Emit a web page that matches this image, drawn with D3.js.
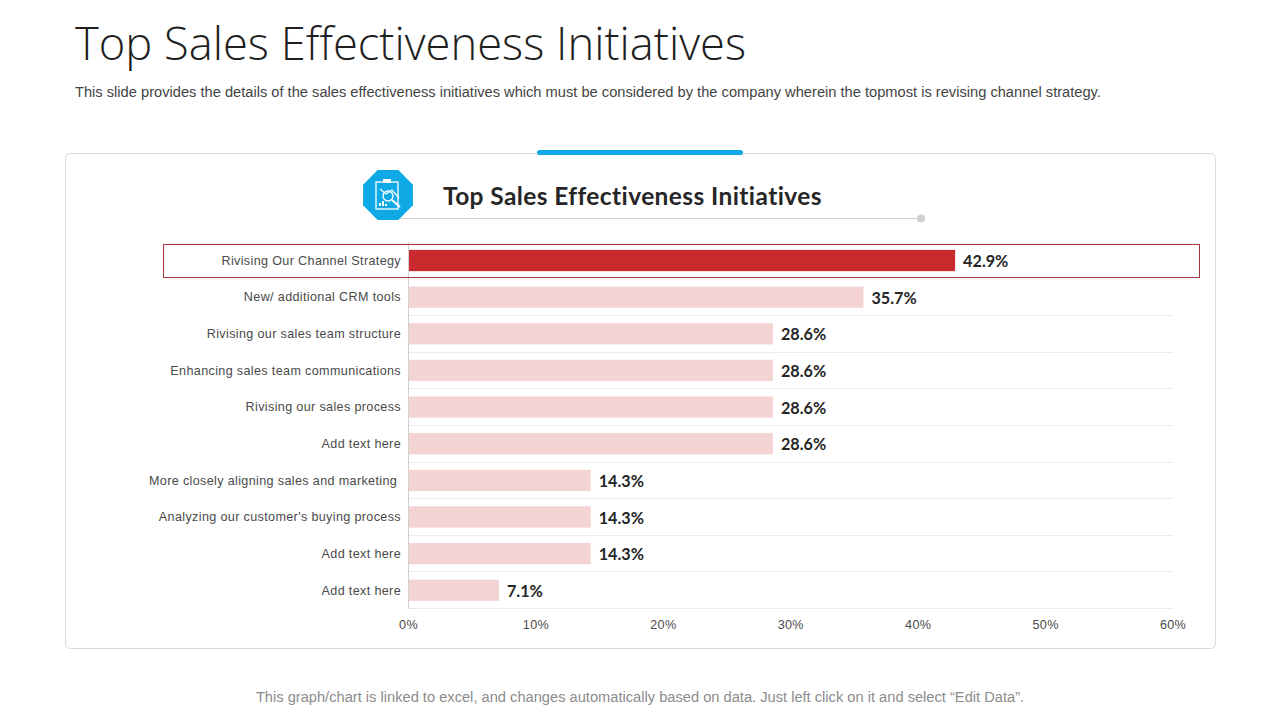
<!DOCTYPE html>
<html>
<head>
<meta charset="utf-8">
<script src="https://cdn.jsdelivr.net/npm/d3@7"></script>
<style>
  html, body { margin: 0; padding: 0; background: #fff; }
  svg { display: block; }
  text { font-family: "Liberation Sans", Arial, sans-serif; }
</style>
</head>
<body>
<script>
const categories = [
   "Rivising Our Channel Strategy",
   "New/ additional CRM tools",
   "Rivising our sales team structure",
   "Enhancing sales team communications",
   "Rivising our sales process",
   "Add text here",
   "More closely aligning sales and marketing ",
   "Analyzing our customer's buying process",
   "Add text here",
   "Add text here"
];
const values = [42.9, 35.7, 28.6, 28.6, 28.6, 28.6, 14.3, 14.3, 14.3, 7.1];
const xTicks = [0, 10, 20, 30, 40, 50, 60];
const highlightIndex = 0;

const titleText = "Top Sales Effectiveness Initiatives";
const subtitleText = "This slide provides the details of the sales effectiveness initiatives which must be considered by the company wherein the topmost is revising channel strategy.";
const footerText = "This graph/chart is linked to excel, and changes automatically based on data. Just left click on it and select \u201cEdit Data\u201d.";

const width = 1280, height = 720;
const svg = d3.select("body").append("svg")
   .attr("width", width)
   .attr("height", height);

// Slide header
svg.append("text")
   .attr("x", 75).attr("y", 60)
   .style("font-family", "'Open Sans'")
   .style("font-weight", 300)
   .style("font-size", "45.3px")
   .style("fill", "#1f1f1f")
   .text(titleText);

svg.append("text")
   .attr("x", 75).attr("y", 97)
   .style("font-size", "14.67px")
   .style("fill", "#444")
   .text(subtitleText);

// Card with the blue tab on top
svg.append("rect")
   .attr("x", 65.5).attr("y", 153.5)
   .attr("width", 1150).attr("height", 495)
   .attr("rx", 5)
   .style("fill", "#fff")
   .style("stroke", "#d9d9d9");

svg.append("rect")
   .attr("x", 537).attr("y", 150)
   .attr("width", 206).attr("height", 5)
   .attr("rx", 2.5)
   .style("fill", "#0fa9e6");

// Heading, underline and badge
svg.append("line")
   .attr("x1", 400).attr("x2", 921)
   .attr("y1", 218.5).attr("y2", 218.5)
   .style("stroke", "#d0d0d0");
svg.append("circle")
   .attr("cx", 921).attr("cy", 218.5).attr("r", 4)
   .style("fill", "#d0d0d0");

svg.append("text")
   .attr("x", 443).attr("y", 205)
   .style("font-family", "Lato")
   .style("font-weight", 700)
   .style("font-size", "24.5px")
   .style("letter-spacing", "0.4px")
   .style("fill", "#262626")
   .text(titleText);

const badge = svg.append("g").attr("transform", "translate(388,195)");
const octagon = d3.range(8).map(i => {
   const a = Math.PI / 8 + i * Math.PI / 4;
   return [27 * Math.cos(a), 27 * Math.sin(a)];
});
badge.append("polygon")
   .attr("points", octagon.join(" "))
   .style("fill", "#0fa9e6");
badge.append("rect")
   .attr("x", -12).attr("y", -13).attr("width", 22).attr("height", 27)
   .style("fill", "none").style("stroke", "#fff").style("stroke-width", 1.3);
badge.append("rect")
   .attr("x", -5).attr("y", -16).attr("width", 8).attr("height", 4)
   .style("fill", "#fff");
badge.append("polyline")
   .attr("points", "-8,-6 -2,-1 4,-5 11,3")
   .style("fill", "none").style("stroke", "#fff").style("stroke-width", 1.2);
badge.append("circle")
   .attr("cx", 0).attr("cy", 1).attr("r", 5)
   .style("fill", "none").style("stroke", "#fff").style("stroke-width", 1.3);
badge.append("line")
   .attr("x1", 4).attr("y1", 5).attr("x2", 12).attr("y2", 12)
   .style("stroke", "#fff").style("stroke-width", 2);
[[-9, 3], [-6, 5], [-3, 2]].forEach(b => {
   badge.append("rect")
      .attr("x", b[0]).attr("y", 11 - b[1]).attr("width", 2).attr("height", b[1])
      .style("fill", "#fff");
});

// Scales
const x = d3.scaleLinear().domain([0, 60]).range([408.5, 1173]);
const y = d3.scaleBand()
   .domain(d3.range(categories.length))
   .range([242.2, 608.6])
   .paddingInner(0.42)
   .paddingOuter(0.21);
const bandStep = y.step();

// Row separators, the first one is hidden by the highlight frame
svg.append("g")
   .selectAll("line")
   .data(d3.range(2, categories.length + 1))
   .enter().append("line")
   .attr("x1", x(0)).attr("x2", x(60))
   .attr("y1", i => Math.floor(242.2 + i * bandStep) + 0.5)
   .attr("y2", i => Math.floor(242.2 + i * bandStep) + 0.5)
   .style("stroke", "#ececec");

// Bars
svg.append("g")
   .selectAll("rect")
   .data(values)
   .enter().append("rect")
   .attr("x", x(0))
   .attr("y", (d, i) => y(i))
   .attr("width", d => x(d) - x(0))
   .attr("height", y.bandwidth())
   .style("fill", (d, i) => i === highlightIndex ? "#c92a2e" : "#f4d3d3");

// Vertical axis line
svg.append("line")
   .attr("x1", 408.5).attr("x2", 408.5)
   .attr("y1", 242).attr("y2", 609)
   .style("stroke", "#d0d0d0");

// Highlight frame around the first row
svg.append("rect")
   .attr("x", 163.5).attr("y", 244.5)
   .attr("width", 1036).attr("height", 33)
   .style("fill", "none")
   .style("stroke", "#a8383c");

// Category labels
svg.append("g")
   .selectAll("text")
   .data(categories)
   .enter().append("text")
   .attr("x", 401)
   .attr("y", (d, i) => y(i) + y.bandwidth() / 2 + 4.3)
   .attr("text-anchor", "end")
   .style("white-space", "pre")
   .style("font-size", "12.6px")
   .style("letter-spacing", "0.35px")
   .style("fill", "#4a4a4a")
   .text(d => d);

// Value labels
svg.append("g")
   .selectAll("text")
   .data(values)
   .enter().append("text")
   .attr("x", d => x(d) + 8)
   .attr("y", (d, i) => y(i) + y.bandwidth() / 2 + 6.5)
   .style("font-family", "Lato")
   .style("font-weight", 700)
   .style("font-size", "16.2px")
   .style("fill", "#262626")
   .text(d => d.toFixed(1) + "%");

// Bottom axis
const xAxis = d3.axisBottom(x)
   .tickValues(xTicks)
   .tickSize(0)
   .tickPadding(0)
   .tickFormat(d => d + "%");
const axisG = svg.append("g")
   .attr("transform", "translate(-0.5,620)")
   .call(xAxis);
axisG.select(".domain").remove();
axisG.selectAll("text")
   .style("font-family", "'Liberation Sans'")
   .style("font-size", "12.6px")
   .style("letter-spacing", "0.35px")
   .style("fill", "#4a4a4a");

// Footer note
svg.append("text")
   .attr("x", 640).attr("y", 702)
   .attr("text-anchor", "middle")
   .style("font-size", "14.66px")
   .style("fill", "#8c8c8c")
   .text(footerText);
</script>
</body>
</html>
